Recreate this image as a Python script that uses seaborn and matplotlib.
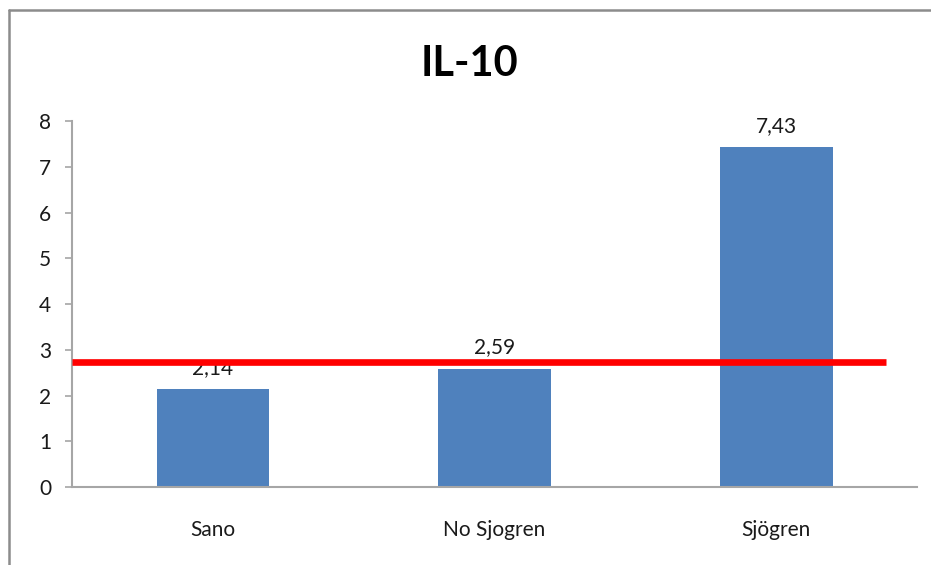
import matplotlib
matplotlib.use("Agg")
import matplotlib.pyplot as plt
from matplotlib.lines import Line2D
import seaborn as sns
import pandas as pd

categories = ["Sano", "No Sjogren", "Sjögren"]
values = [2.14, 2.59, 7.43]
threshold = 2.73
title = "IL-10"
yticks = [0, 1, 2, 3, 4, 5, 6, 7, 8]

sns.set_style("white")
plt.rcParams["font.family"] = ["Lato", "DejaVu Sans"]

df = pd.DataFrame({"cat": categories, "val": values})

fig = plt.figure(figsize=(9.31, 5.65), dpi=100)
ax = fig.add_axes([72 / 931, 1 - 487 / 565, (917 - 72) / 931, (487 - 121) / 565])

sns.barplot(data=df, x="cat", y="val", ax=ax, color="#4F81BD", width=0.4,
            saturation=1, edgecolor="#4F81BD", linewidth=0)

for i, v in enumerate(values):
    ax.text(i, v + 0.25, f"{v:.2f}".replace(".", ","), ha="center", va="bottom",
            fontsize=15, color="#1a1a1a", zorder=3)

ax.axhline(threshold, xmin=0.0, xmax=0.963, color="#FF0000", lw=4.8,
           zorder=5, clip_on=False, solid_capstyle="butt")

ax.set_ylim(0, 8)
ax.set_yticks(yticks)
ax.set_yticklabels([str(t) for t in yticks])
ax.set_xlabel("")
ax.set_ylabel("")
ax.tick_params(axis="y", which="both", left=True, length=5, width=1.2,
               color="#a6a6a6", labelsize=15, labelcolor="#1a1a1a", pad=10)
ax.tick_params(axis="x", which="both", bottom=False, labelsize=15,
               labelcolor="#1a1a1a", pad=20)
for s in ["top", "right"]:
    ax.spines[s].set_visible(False)
for s in ["left", "bottom"]:
    ax.spines[s].set_color("#a6a6a6")
    ax.spines[s].set_linewidth(1.5)

fig.text(470 / 931, 1 - 64 / 565, title, ha="center", va="center",
         fontsize=30, fontweight="bold", color="black")

bx = 8.5 / 931
by = 1 - 9.5 / 565
fig.add_artist(Line2D([bx, bx], [0, by], transform=fig.transFigure,
                      color="#8c8c8c", lw=1.8))
fig.add_artist(Line2D([bx, 1], [by, by], transform=fig.transFigure,
                      color="#8c8c8c", lw=1.8))

fig.savefig("out.png", dpi=100)
